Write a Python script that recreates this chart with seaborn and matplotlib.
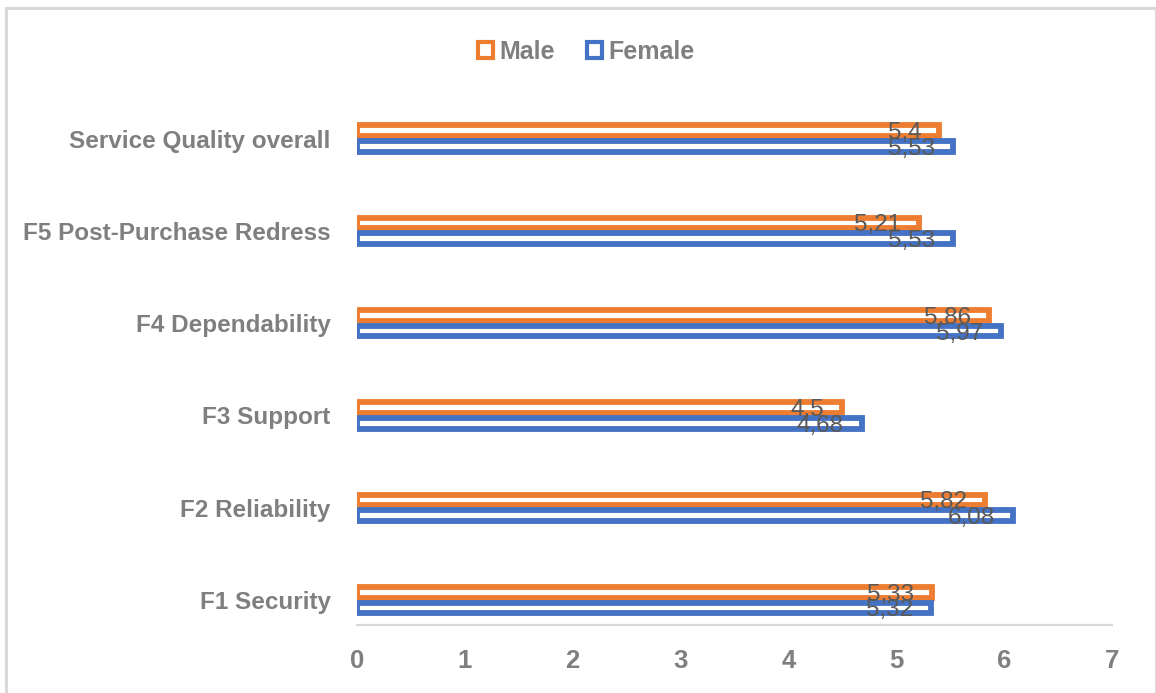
import matplotlib
matplotlib.use("Agg")
import matplotlib.pyplot as plt
from matplotlib.patches import Patch, Rectangle
import pandas as pd
import seaborn as sns

# Mean service-quality scores by gender
categories = [
    "Service Quality overall",
    "F5 Post-Purchase Redress",
    "F4 Dependability",
    "F3 Support",
    "F2 Reliability",
    "F1 Security",
]
male = [5.4, 5.21, 5.86, 4.5, 5.82, 5.33]
female = [5.53, 5.53, 5.97, 4.68, 6.08, 5.32]
genders = ["Male", "Female"]
x_ticks = [0, 1, 2, 3, 4, 5, 6, 7]

colors = {"Male": "#ED7D31", "Female": "#4472C4"}
label_gray = "#7F7F7F"
value_gray = "#595959"

sns.set_style("white")
plt.rcParams["font.family"] = ["Liberation Sans", "DejaVu Sans"]

df = pd.DataFrame({
    "factor": categories * 2,
    "score": male + female,
    "gender": ["Male"] * len(categories) + ["Female"] * len(categories),
})

fig = plt.figure(figsize=(11.56, 6.93), dpi=100)
ax = fig.add_axes([0.3088, 0.0981, 0.6531, 0.7686])

sns.barplot(
    data=df, y="factor", x="score", hue="gender",
    order=categories, hue_order=genders, palette=colors,
    orient="h", width=0.34, errorbar=None, legend=False, ax=ax,
)

# Hollow bars: white fill with a heavy coloured outline
bar_h = 0.115
for container, gender in zip(ax.containers, genders):
    for bar in container:
        h = bar.get_height()
        bar.set_y(bar.get_y() + (h - bar_h) / 2)
        bar.set_height(bar_h)
        bar.set_facecolor("white")
        bar.set_edgecolor(colors[gender])
        bar.set_linewidth(4.2)

# Value labels just inside the end of each bar, decimal comma
for container, values in zip(ax.containers, [male, female]):
    for bar, v in zip(container, values):
        yc = bar.get_y() + bar.get_height() / 2
        ax.annotate(
            f"{v:g}".replace(".", ","), xy=(v, yc),
            xytext=(-13, 0), textcoords="offset points",
            ha="right", va="center_baseline", fontsize=17.5,
            color=value_gray, zorder=5,
        )

ax.set_xlim(0, 7)
ax.set_ylim(5.27, -0.5)
ax.set_xticks(x_ticks)
ax.set_xticklabels([str(t) for t in x_ticks])
ax.set_xlabel("")
ax.set_ylabel("")
ax.grid(False)

for side in ("left", "top", "right"):
    ax.spines[side].set_visible(False)
ax.spines["bottom"].set_color("#D9D9D9")
ax.spines["bottom"].set_linewidth(1.6)

ax.tick_params(axis="x", length=0, pad=17, labelsize=18.5, labelcolor=label_gray)
ax.tick_params(axis="y", length=0, pad=19, labelsize=17.5, labelcolor=label_gray)
for lbl in ax.get_xticklabels() + ax.get_yticklabels():
    lbl.set_fontweight("bold")

handles = [
    Patch(facecolor="white", edgecolor=colors[g], linewidth=3.0, label=g)
    for g in genders
]
fig.legend(
    handles=handles, loc="center", bbox_to_anchor=(0.507, 0.925),
    ncol=2, frameon=False, handlelength=0.6, handleheight=0.6,
    handletextpad=0.25, columnspacing=1.3,
    prop={"size": 18, "weight": "bold"}, labelcolor=label_gray,
)

# Chart frame
fig.patches.append(Rectangle(
    (0.0056, -0.05), 0.994, 1.039, transform=fig.transFigure,
    fill=False, edgecolor="#D9D9D9", linewidth=2.2,
))

fig.savefig("out.png", dpi=100)
